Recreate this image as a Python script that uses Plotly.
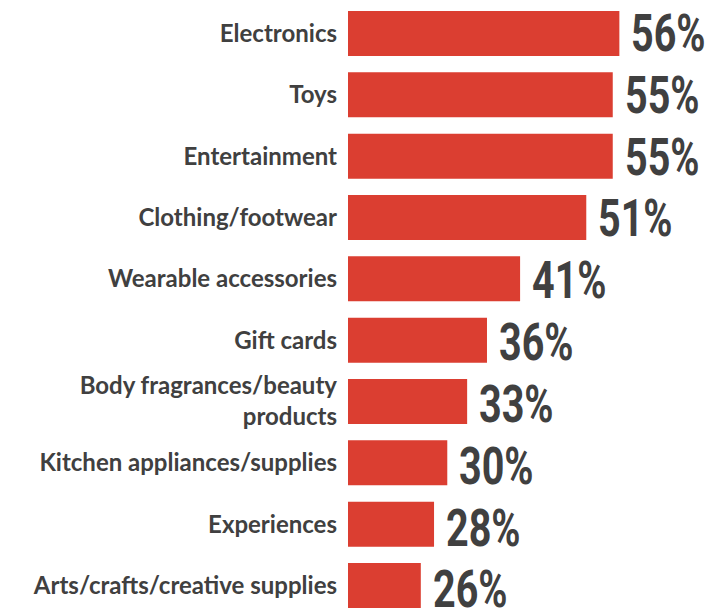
import plotly.graph_objects as go

# Share of respondents planning to buy each gift category
categories = [
    "Electronics",
    "Toys",
    "Entertainment",
    "Clothing/footwear",
    "Wearable accessories",
    "Gift cards",
    "Body fragrances/beauty<br>products",
    "Kitchen appliances/supplies",
    "Experiences",
    "Arts/crafts/creative supplies",
]
values = [56, 55, 55, 51, 41, 36, 33, 30, 28, 26]

BAR_COLOR = "#DB3E31"
TEXT_COLOR = "#404040"

fig = go.Figure(
    go.Bar(
        x=values,
        y=categories,
        orientation="h",
        marker=dict(color=BAR_COLOR, line=dict(width=0)),
        hoverinfo="skip",
    )
)

# Percentage labels just past the end of each bar
for i, (cat, v) in enumerate(zip(categories, values)):
    fig.add_annotation(
        x=v,
        y=cat,
        text=f"{v}%",
        showarrow=False,
        xanchor="left",
        yanchor="middle",
        xshift=10,
        yshift=-0.5 * i,
        font=dict(family="Roboto, sans-serif",
                  size=52, color=TEXT_COLOR, weight="bold"),
    )

fig.update_layout(
    width=716,
    height=610,
    margin=dict(l=348, r=0, t=0, b=0),
    paper_bgcolor="white",
    plot_bgcolor="white",
    bargap=0.266,
    showlegend=False,
    xaxis=dict(
        range=[15, 70.6],
        visible=False,
        showgrid=False,
        zeroline=False,
    ),
    yaxis=dict(
        range=[9.40, -0.546],
        showgrid=False,
        zeroline=False,
        showline=False,
        ticks="",
        ticklabelstandoff=10,
        tickfont=dict(family="Lato, sans-serif", size=24, color=TEXT_COLOR,
                      weight="bold"),
    ),
)

# Condensed look for the percentage labels: squeeze them horizontally,
# keeping each label's left edge in place.
condense_css = """
var st = document.createElement('style');
st.textContent = '.annotation-text{transform-box:fill-box;' +
                 'transform-origin:0% 50%;transform:scaleX(0.76);}';
document.head.appendChild(st);
"""

fig.write_html("out.html", post_script=condense_css)
